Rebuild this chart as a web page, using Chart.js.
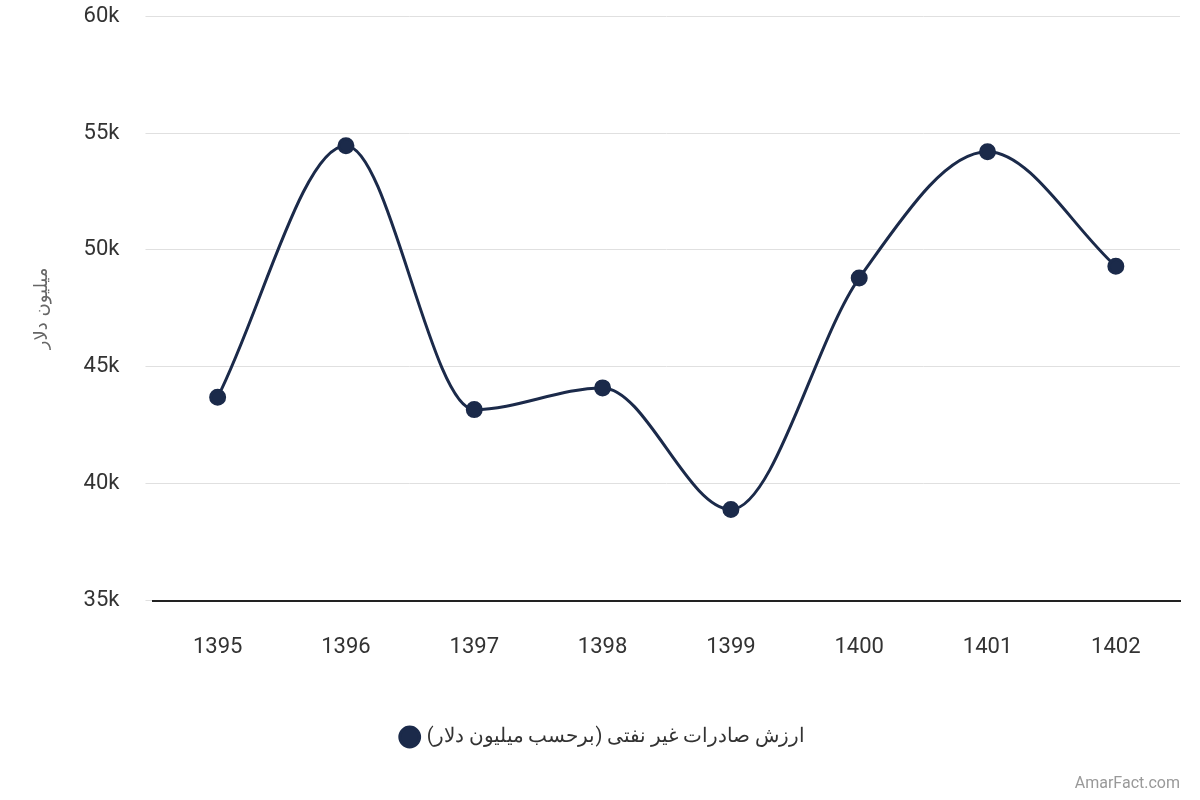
<!DOCTYPE html>
<html><head><meta charset="utf-8">
<script src="https://cdn.jsdelivr.net/npm/chart.js@4"></script>
<style>html,body{margin:0;padding:0;background:#fff;overflow:hidden}#wrap{position:relative;width:1200px;height:800px;overflow:hidden}
#c{position:absolute;left:0;top:-23px}
#wm{position:absolute;right:20px;bottom:8px;font:16px Roboto,sans-serif;color:#999}</style>
</head><body><div id="wrap"><canvas id="c" width="1200" height="815"></canvas><div id="wm">AmarFact.com</div></div>
<script>
const categories=['1395','1396','1397','1398','1399','1400','1401','1402'];
const values=[43700,54460,43170,44100,38900,48800,54200,49300];
const seriesName='ارزش صادرات غیر نفتی (برحسب میلیون دلار)';
const yTitle='میلیون دلار';
const color='#1b2a4a';
new Chart(document.getElementById('c'),{type:'line',
data:{labels:categories,datasets:[{label:seriesName,data:values,borderColor:color,backgroundColor:color,borderWidth:3,pointRadius:7,pointHoverRadius:7,cubicInterpolationMode:'monotone',fill:false}]},
options:{responsive:false,animation:false,
layout:{padding:{left:28,right:20,top:8,bottom:35}},
plugins:{legend:{position:'bottom',labels:{usePointStyle:true,pointStyle:'circle',boxWidth:14,boxHeight:14,font:{family:'Roboto',size:20},color:'#333',padding:40}},tooltip:{enabled:false}},
scales:{
x:{offset:true,grid:{display:false},border:{color:'#222',width:2},ticks:{font:{family:'Roboto',size:22},color:'#333',padding:26}},
y:{min:35000,max:60000,ticks:{stepSize:5000,callback:v=>(v/1000)+'k',font:{family:'Roboto',size:22},color:'#333',padding:26},grid:{color:'#e0e0e0'},border:{display:false},
title:{display:true,text:yTitle,font:{family:'DejaVu Sans',size:18},color:'#666'}}}}});
</script></body></html>
